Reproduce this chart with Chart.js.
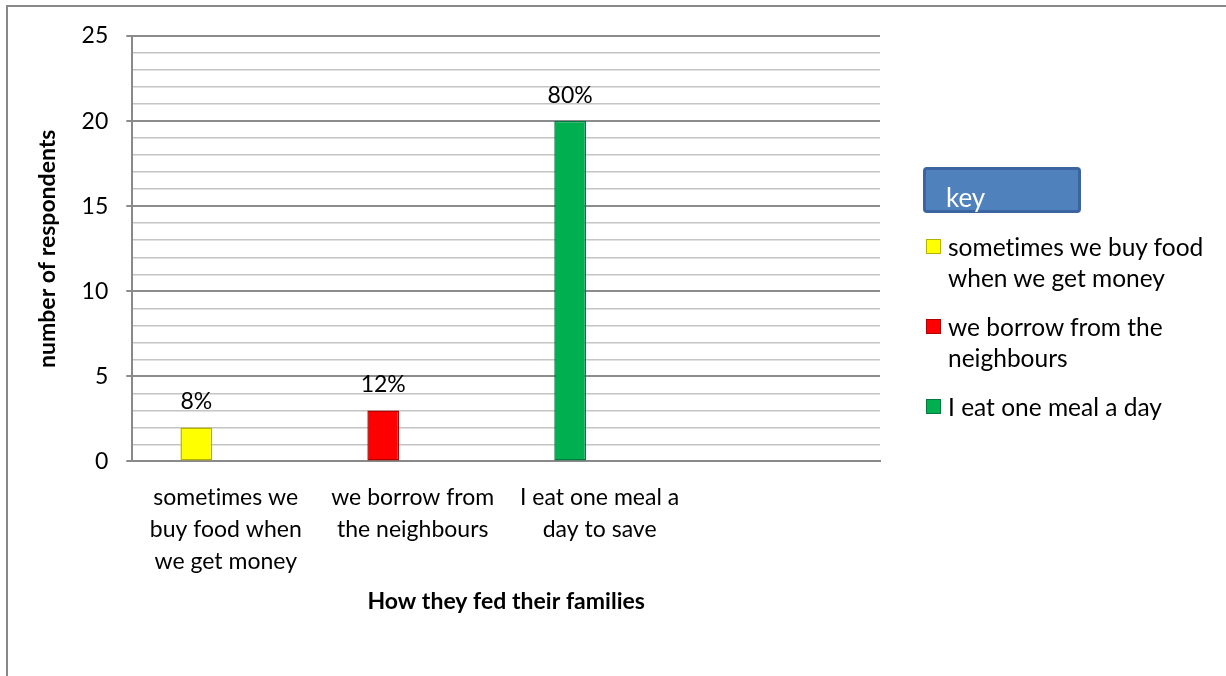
<!DOCTYPE html>
<html lang="en">
<head>
    <meta charset="UTF-8">
    <title>How they fed their families</title>
    <script src="https://cdn.jsdelivr.net/npm/chart.js"></script>
    <style>
        body {
            margin: 0;
            background: #fff;
            font-family: Lato, "Open Sans", sans-serif;
        }
        #frame {
            position: absolute;
            left: 6px;
            top: 5px;
            width: 1300px;
            height: 800px;
            border-top: 2px solid #898989;
            border-left: 2px solid #898989;
        }
        #wrap {
            position: absolute;
            left: 0;
            top: 0;
            width: 1226px;
            height: 676px;
        }
        #key {
            position: absolute;
            left: 923px;
            top: 167px;
            width: 152px;
            height: 40px;
            background: #4f81bd;
            border: 3px solid #3b64a0;
            border-radius: 4px;
            color: #fff;
            font-size: 26px;
            box-sizing: content-box;
        }
        #key span {
            position: absolute;
            left: 20px;
            top: 14px;
            line-height: 1;
        }
        #legend {
            position: absolute;
            left: 926px;
            top: 231px;
            font-size: 24.5px;
            color: #000;
            font-variant-ligatures: none;
        }
        .item {
            display: flex;
            margin-bottom: 18px;
            line-height: 31px;
        }
        .swatch {
            width: 13px;
            height: 13px;
            margin-top: 8px;
            margin-right: 7px;
            border: 1px solid;
            flex: none;
        }
    </style>
</head>
<body>
    <div id="frame"></div>
    <div id="wrap"><canvas id="chart" width="1226" height="676"></canvas></div>
    <div id="key"><span>key</span></div>
    <div id="legend"></div>

    <script>
        // data
        const categories = [
            ["sometimes we", "buy food when", "we get money"],
            ["we borrow from", "the neighbours"],
            ["I eat one meal a", "day to save"],
            ""
        ];
        const respondents = [2, 3, 20, null];
        const percentLabels = ["8%", "12%", "80%"];
        const legendLabels = [
            ["sometimes we buy food", "when we get money"],
            ["we borrow from the", "neighbours"],
            ["I eat one meal a day"]
        ];
        const barColors = ["#ffff00", "#ff0000", "#00b050"];
        const barEdges = ["#b3b300", "#b30000", "#007a3d"];

        const family = "Lato, 'Open Sans', sans-serif";
        const font = { family: family, size: 23, lineHeight: 1.39 };
        const boldFont = { family: family, size: 23, weight: "bold" };

        // no "ti" ligatures in canvas text
        const noLigatures = {
            id: "noLigatures",
            beforeUpdate(chart) { chart.ctx.letterSpacing = "0.01px"; },
            beforeDraw(chart) { chart.ctx.letterSpacing = "0.01px"; }
        };

        // percentages above the bars
        const barLabels = {
            id: "barLabels",
            afterDatasetsDraw(chart) {
                const ctx = chart.ctx;
                const meta = chart.getDatasetMeta(0);
                ctx.save();
                ctx.font = "23px " + family;
                ctx.fillStyle = "#000";
                ctx.textAlign = "center";
                ctx.textBaseline = "middle";
                meta.data.forEach((bar, i) => {
                    if (percentLabels[i]) ctx.fillText(percentLabels[i], bar.x, bar.y - 26);
                });
                ctx.restore();
            }
        };

        new Chart(document.getElementById("chart"), {
            type: "bar",
            data: {
                labels: categories,
                datasets: [{
                    data: respondents,
                    backgroundColor: barColors,
                    borderColor: barEdges,
                    borderWidth: 1.5,
                    borderSkipped: false,
                    categoryPercentage: 0.63,
                    barPercentage: 0.54
                }, {
                    // empty second series, keeps the bars left of centre like the original
                    data: [null, null, null, null],
                    categoryPercentage: 0.63,
                    barPercentage: 0.54
                }]
            },
            options: {
                responsive: false,
                animation: false,
                layout: { padding: { top: 36, right: 346, bottom: 57, left: 34 } },
                plugins: {
                    legend: { display: false },
                    tooltip: { enabled: false }
                },
                scales: {
                    x: {
                        grid: { display: false },
                        border: { color: "#898989", width: 2 },
                        ticks: {
                            color: "#000",
                            font: font,
                            padding: 12,
                            maxRotation: 0,
                            autoSkip: false
                        },
                        title: {
                            display: true,
                            text: "How they fed their families",
                            color: "#000",
                            font: boldFont,
                            padding: { top: -2 }
                        }
                    },
                    y: {
                        min: 0,
                        max: 25,
                        border: { color: "#898989", width: 2 },
                        grid: {
                            color: c => c.tick && c.tick.value % 5 === 0 ? "#8c8c8c" : "#c4c4c4",
                            lineWidth: c => c.tick && c.tick.value % 5 === 0 ? 2 : 1.5,
                            tickColor: c => c.tick && c.tick.value % 5 === 0 ? "#8c8c8c" : "rgba(0,0,0,0)",
                            tickLength: 6
                        },
                        ticks: {
                            stepSize: 1,
                            autoSkip: false,
                            color: "#000",
                            font: { family: family, size: 23 },
                            padding: 18,
                            callback: v => v % 5 === 0 ? v : ""
                        },
                        title: {
                            display: true,
                            text: "number of respondents",
                            color: "#000",
                            font: boldFont,
                            padding: { top: 0, bottom: 2 }
                        }
                    }
                }
            },
            plugins: [noLigatures, barLabels]
        });

        // key on the right
        const legend = document.getElementById("legend");
        legendLabels.forEach((lines, i) => {
            const item = document.createElement("div");
            item.className = "item";
            const sw = document.createElement("div");
            sw.className = "swatch";
            sw.style.background = barColors[i];
            sw.style.borderColor = barEdges[i];
            const txt = document.createElement("div");
            txt.innerHTML = lines.join("<br>");
            item.appendChild(sw);
            item.appendChild(txt);
            legend.appendChild(item);
        });
    </script>
</body>
</html>
